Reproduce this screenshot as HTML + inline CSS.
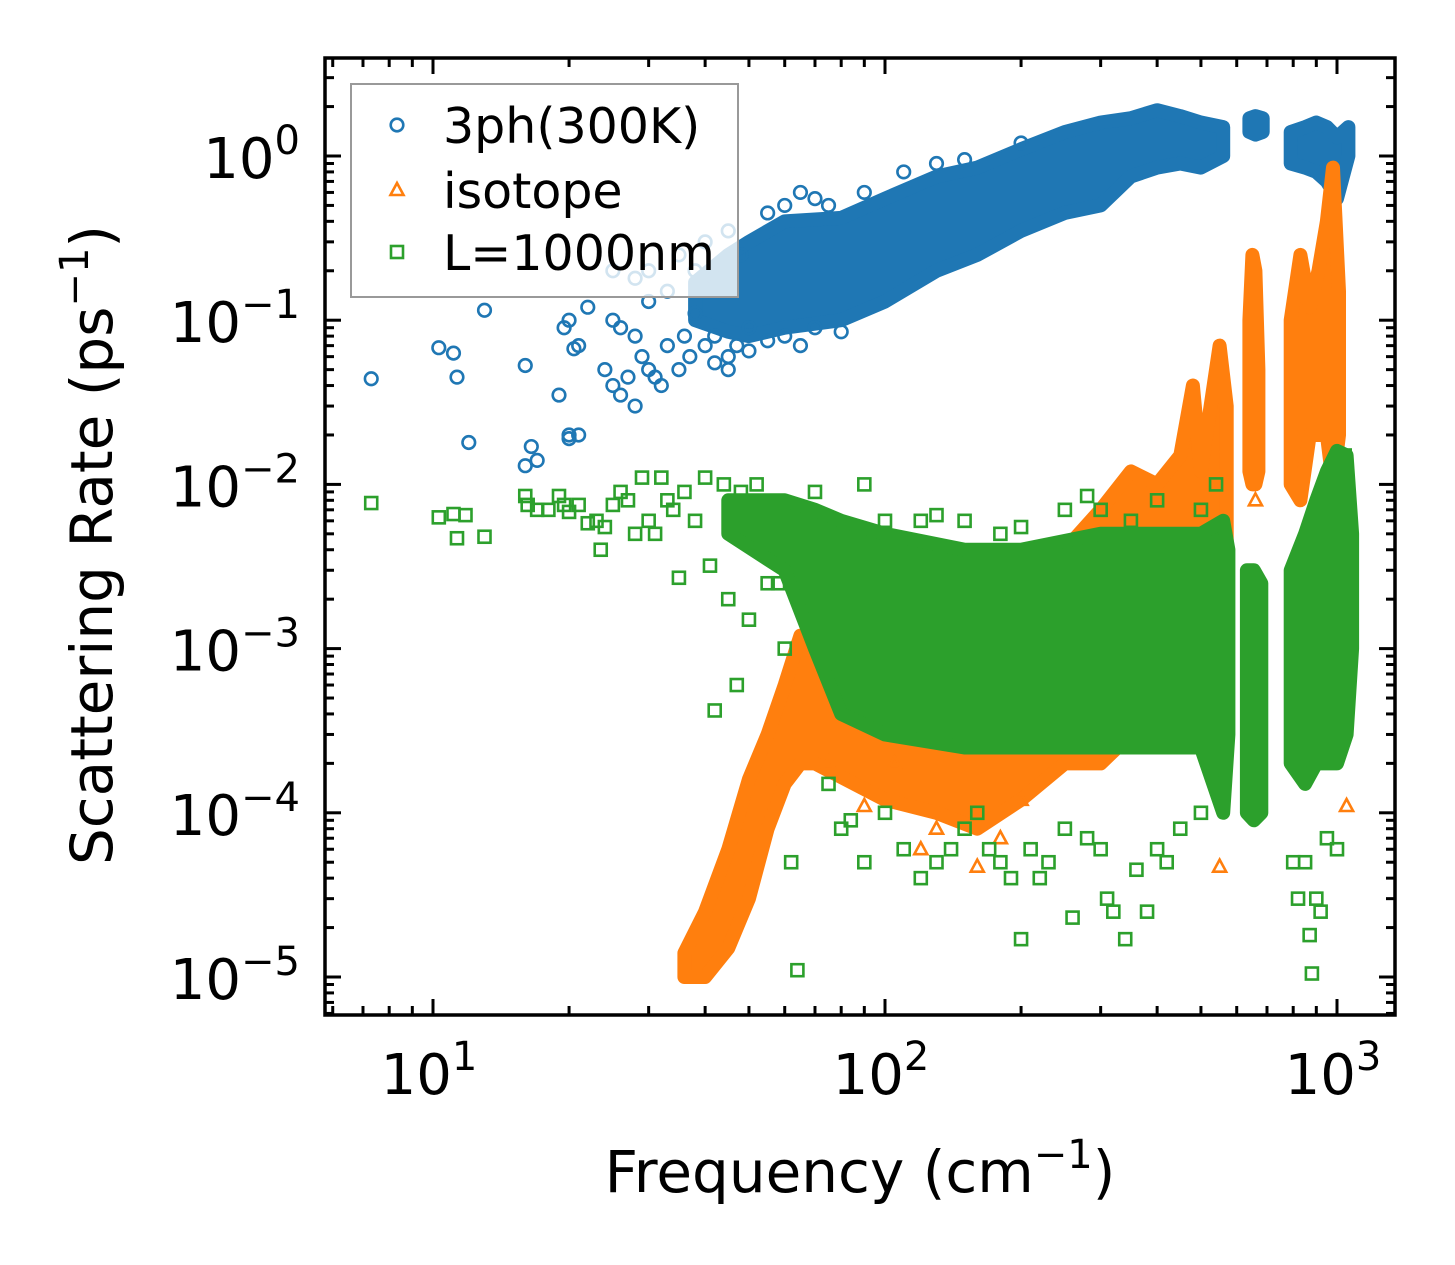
<!DOCTYPE html>
<html><head><meta charset="utf-8"><style>
html,body{margin:0;padding:0;background:#fff}
svg{display:block;font-family:"DejaVu Sans","Liberation Sans",sans-serif}
</style></head><body>
<svg id="chart" width="1455" height="1265" viewBox="0 0 1455 1265" xmlns="http://www.w3.org/2000/svg">
<rect width="1455" height="1265" fill="#fff"/>
<defs><clipPath id="plotclip"><rect x="325" y="58" width="1070" height="957"/></clipPath></defs>
<g id="marks" clip-path="url(#plotclip)"></g>
<g id="axes"></g>
<g id="legend"></g>
<text x="860" y="1192" font-size="58" text-anchor="middle">Frequency (cm<tspan dy="-24" font-size="40">−1</tspan><tspan dy="24">)</tspan></text>
<text transform="translate(112,545) rotate(-90)" font-size="58" text-anchor="middle">Scattering Rate (ps<tspan dy="-24" font-size="40">−1</tspan><tspan dy="24">)</tspan></text>
</svg>
<script>
// ---- data ----
const blueMainF = [38,45,50,60,80,100,130,160,200,250,300,350,400,450,500,560];
const blueMainLo = [0.1,0.085,0.08,0.09,0.1,0.13,0.2,0.25,0.35,0.45,0.5,0.75,0.85,0.9,0.85,1.0];
const blueMainHi = [0.17,0.25,0.3,0.4,0.42,0.55,0.75,0.85,1.1,1.4,1.6,1.7,1.9,1.75,1.6,1.5];
const blueC2F = [640,660,685];
const blueC2Lo = [1.4,1.35,1.4];
const blueC2Hi = [1.7,1.75,1.7];
const blueC3F = [790,850,900,950,1000,1060];
const blueC3Lo = [0.9,0.85,0.8,0.7,0.55,1.0];
const blueC3Hi = [1.4,1.5,1.6,1.5,1.3,1.5];
const bluePtsF = [7.3,10.3,11.1,11.3,12,13,16,16,16.5,17,19,19.5,20,20,20.5,21,20,21,22,24,25,25,26,26,27,28,28,29,30,30,31,32,33,35,36,37,38,40,42,45,47,50,25,28,30,33,35,38,40,42,45,48,55,60,65,70,75,90,110,130,150,200,42,45,50,55,60,65,70,80];
const bluePtsY = [0.044,0.068,0.063,0.045,0.018,0.115,0.053,0.013,0.017,0.014,0.035,0.09,0.02,0.019,0.067,0.02,0.1,0.07,0.12,0.05,0.04,0.1,0.035,0.09,0.045,0.03,0.08,0.06,0.05,0.13,0.045,0.04,0.07,0.05,0.08,0.06,0.11,0.07,0.055,0.05,0.07,0.09,0.2,0.18,0.2,0.15,0.25,0.2,0.3,0.18,0.35,0.25,0.45,0.5,0.6,0.55,0.5,0.6,0.8,0.9,0.95,1.2,0.08,0.06,0.065,0.075,0.08,0.07,0.09,0.085];

const orMainF = [36,40,45,50,55,60,65,70,100,130,160,200,250,300,350,400,450,480,500,550,570];
const orMainLo = [1e-5,1e-5,1.5e-5,3e-5,8e-5,1.5e-4,2e-4,2e-4,1.2e-4,1e-4,8e-5,1.2e-4,2e-4,2e-4,3e-4,3e-4,4e-4,4e-4,4e-4,5e-4,1e-3];
const orMainHi = [1.4e-5,2.5e-5,6e-5,1.6e-4,3e-4,6e-4,1.2e-3,1e-3,1e-3,1e-3,1.5e-3,2e-3,4e-3,7e-3,1.2e-2,1e-2,1.5e-2,0.04,1.2e-2,0.07,0.03];
const orC2F = [640,650,660,670];
const orC2Lo = [0.012,0.01,0.01,0.012];
const orC2Hi = [0.1,0.25,0.2,0.05];
const orC3F = [790,830,870,910,950,980,1010];
const orC3Lo = [0.01,0.008,0.02,0.02,0.02,0.01,0.02];
const orC3Hi = [0.1,0.25,0.12,0.2,0.4,0.85,0.15];
const orPtsF = [550,1050,160,130,200,105,90,75,660,120,180];
const orPtsY = [4.7e-5,1.1e-4,4.7e-5,8e-5,1.2e-4,2e-4,1.1e-4,2e-4,8e-3,6e-5,7e-5];

const grMainF = [45,60,70,80,100,150,200,300,400,500,560,575];
const grMainLo = [5e-3,3e-3,1e-3,4e-4,3e-4,2.5e-4,2.5e-4,2.5e-4,2.5e-4,2.5e-4,1e-4,3e-4];
const grMainHi = [8e-3,8e-3,7e-3,6e-3,5e-3,4e-3,4e-3,5e-3,5e-3,5e-3,6e-3,4e-3];
const grC2F = [632,655,680];
const grC2Lo = [1e-4,9e-5,1e-4];
const grC2Hi = [3e-3,3e-3,2.5e-3];
const grC3F = [790,850,900,950,1000,1050,1080];
const grC3Lo = [2e-4,1.5e-4,2e-4,2e-4,2e-4,3e-4,1e-3];
const grC3Hi = [3e-3,5e-3,8e-3,1.2e-2,1.6e-2,1.5e-2,5e-3];
const grPtsF = [7.3,10.3,11.1,11.3,11.8,13,16,16.2,17,18,19,19.5,20,21,22,23,23.5,24,25,26,27,28,29,30,31,32,33,34,35,36,38,40,41,42,44,45,47,48,50,52,55,58,60,62,64,70,75,80,84,90,100,110,120,130,140,150,160,170,180,190,200,210,220,230,250,260,280,300,310,320,340,360,380,400,420,450,500,90,120,150,180,250,280,300,400,500,540,800,820,850,880,870,900,920,950,1000,1040,100,130,200,350];
const grPtsY = [7.7e-3,6.3e-3,6.6e-3,4.7e-3,6.5e-3,4.8e-3,8.5e-3,7.5e-3,7e-3,7e-3,8.5e-3,7.5e-3,6.8e-3,7.5e-3,5.8e-3,6e-3,4e-3,5.5e-3,7.5e-3,9e-3,8e-3,5e-3,1.1e-2,6e-3,5e-3,1.1e-2,8e-3,7e-3,2.7e-3,9e-3,6e-3,1.1e-2,3.2e-3,4.2e-4,1e-2,2e-3,6e-4,9e-3,1.5e-3,1e-2,2.5e-3,2.5e-3,1e-3,5e-5,1.1e-5,9e-3,1.5e-4,8e-5,9e-5,5e-5,1e-4,6e-5,4e-5,5e-5,6e-5,8e-5,1e-4,6e-5,5e-5,4e-5,1.7e-5,6e-5,4e-5,5e-5,8e-5,2.3e-5,7e-5,6e-5,3e-5,2.5e-5,1.7e-5,4.5e-5,2.5e-5,6e-5,5e-5,8e-5,1e-4,1e-2,6e-3,6e-3,5e-3,7e-3,8.5e-3,7e-3,8e-3,7e-3,1e-2,5e-5,3e-5,5e-5,1.05e-5,1.8e-5,3e-5,2.5e-5,7e-5,6e-5,1.5e-2,6e-3,6.5e-3,5.5e-3,6e-3];

const xTickExp = [1,2,3];
const yTickExp = [0,-1,-2,-3,-4,-5];

// ---- scales ----
const X0 = 433, DX = 452, Y0 = 156, DY = 164.2;
function xs(f){ return X0 + (Math.log10(f) - 1) * DX; }
function ys(v){ return Y0 - Math.log10(v) * DY; }

const NS = "http://www.w3.org/2000/svg";
const marks = document.getElementById('marks');
const axes = document.getElementById('axes');
function mk(tag, parent){ const e = document.createElementNS(NS, tag); parent.appendChild(e); return e; }

const BLUE = "#1f77b4", ORANGE = "#ff7f0e", GREEN = "#2ca02c";

function drawBand(F, lo, hi, color, name){
  let pts = [];
  for (let i = 0; i < F.length; i++) pts.push(xs(F[i]).toFixed(1) + "," + ys(hi[i]).toFixed(1));
  for (let i = F.length - 1; i >= 0; i--) pts.push(xs(F[i]).toFixed(1) + "," + ys(lo[i]).toFixed(1));
  const p = mk('polygon', marks);
  p.setAttribute('points', pts.join(' '));
  p.setAttribute('fill', color);
  p.setAttribute('stroke', color);
  p.setAttribute('stroke-width', '14');
  p.setAttribute('stroke-linejoin', 'round');
  
  
}
function drawMarker(kind, x, y, color, parent, name){
  let e;
  if (kind === 'o') { e = mk('circle', parent); e.setAttribute('cx', x); e.setAttribute('cy', y); e.setAttribute('r', 6.3); }
  else if (kind === 's') { e = mk('rect', parent); e.setAttribute('x', x - 6); e.setAttribute('y', y - 6); e.setAttribute('width', 12); e.setAttribute('height', 12); }
  else { e = mk('polygon', parent); e.setAttribute('points', `${x},${y-7} ${x+6.5},${y+5} ${x-6.5},${y+5}`); }
  e.setAttribute('fill', 'none');
  e.setAttribute('stroke', color);
  e.setAttribute('stroke-width', '2.6');
  
  
  return e;
}
function drawPts(F, Y, kind, color, name){
  for (let i = 0; i < F.length; i++) drawMarker(kind, xs(F[i]), ys(Y[i]), color, marks, name);
}

drawBand(blueMainF, blueMainLo, blueMainHi, BLUE, 'threeph-band');
drawBand(blueC2F, blueC2Lo, blueC2Hi, BLUE, 'threeph-cluster-650');
drawBand(blueC3F, blueC3Lo, blueC3Hi, BLUE, 'threeph-cluster-900');
drawPts(bluePtsF, bluePtsY, 'o', BLUE, 'threeph-point');

drawBand(orMainF, orMainLo, orMainHi, ORANGE, 'isotope-band');
drawBand(orC2F, orC2Lo, orC2Hi, ORANGE, 'isotope-cluster-650');
drawBand(orC3F, orC3Lo, orC3Hi, ORANGE, 'isotope-cluster-900');
drawPts(orPtsF, orPtsY, 't', ORANGE, 'isotope-point');

drawBand(grMainF, grMainLo, grMainHi, GREEN, 'boundary-band');
drawBand(grC2F, grC2Lo, grC2Hi, GREEN, 'boundary-cluster-650');
drawBand(grC3F, grC3Lo, grC3Hi, GREEN, 'boundary-cluster-900');
drawPts(grPtsF, grPtsY, 's', GREEN, 'boundary-point');

// ---- axes ----
const L = 325, R = 1395, T = 58, B = 1015;
function line(x1, y1, x2, y2, w, name){
  const l = mk('line', axes);
  l.setAttribute('x1', x1); l.setAttribute('y1', y1); l.setAttribute('x2', x2); l.setAttribute('y2', y2);
  l.setAttribute('stroke', '#000'); l.setAttribute('stroke-width', w);
  
  
}
for (let e = 0; e <= 3; e++) {
  for (let m = 1; m <= 9; m++) {
    const f = m * Math.pow(10, e);
    const x = xs(f);
    if (x < L || x > R) continue;
    const len = m === 1 ? 16 : 9;
    line(x, B, x, B - len, 3, 'x-tick');
    line(x, T, x, T + len, 3, 'x-tick-top');
  }
}
for (let e = -6; e <= 0; e++) {
  for (let m = 1; m <= 9; m++) {
    const v = m * Math.pow(10, e);
    const y = ys(v);
    if (y < T || y > B) continue;
    const len = m === 1 ? 16 : 9;
    line(L, y, L + len, y, 3, 'y-tick');
    line(R, y, R - len, y, 3, 'y-tick-right');
  }
}
const frame = mk('rect', axes);
frame.setAttribute('x', L); frame.setAttribute('y', T); frame.setAttribute('width', R - L); frame.setAttribute('height', B - T);
frame.setAttribute('fill', 'none'); frame.setAttribute('stroke', '#000'); frame.setAttribute('stroke-width', '3.5');



function tickLabel(x, y, exp, anchor, name){
  const t = mk('text', axes);
  t.setAttribute('x', x); t.setAttribute('y', y);
  t.setAttribute('font-size', '56');
  t.setAttribute('text-anchor', anchor);
  
  
  const a = document.createElementNS(NS, 'tspan'); a.textContent = '10'; t.appendChild(a);
  const b = document.createElementNS(NS, 'tspan'); b.setAttribute('dy', '-24'); b.setAttribute('font-size', '40');
  b.textContent = exp < 0 ? '−' + (-exp) : String(exp); t.appendChild(b);
}
xTickExp.forEach(e => tickLabel(xs(Math.pow(10, e)) - 4, 1094, e, 'middle', 'x-tick-label'));
yTickExp.forEach(e => tickLabel(300, ys(Math.pow(10, e)) + 22, e, 'end', 'y-tick-label'));

// ---- legend ----
const lg = document.getElementById('legend');
const box = mk('rect', lg);
box.setAttribute('x', 351); box.setAttribute('y', 84); box.setAttribute('width', 387); box.setAttribute('height', 213);
box.setAttribute('fill', 'rgba(255,255,255,0.8)'); box.setAttribute('stroke', '#999'); box.setAttribute('stroke-width', '2');


const legItems = [['o', BLUE, '3ph(300K)', 125], ['t', ORANGE, 'isotope', 190], ['s', GREEN, 'L=1000nm', 252]];
legItems.forEach(it => {
  drawMarker(it[0], 397, it[3], it[1], lg, 'legend-marker');
  const t = mk('text', lg);
  t.setAttribute('x', 443); t.setAttribute('y', it[3] + 18);
  t.setAttribute('font-size', '49');
  
  
  t.textContent = it[2];
});
</script>
</body></html>
